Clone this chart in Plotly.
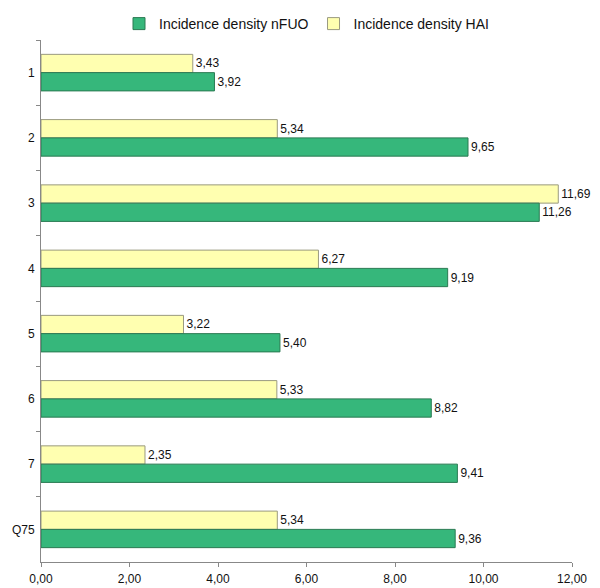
import plotly.graph_objs as go

categories = ["1", "2", "3", "4", "5", "6", "7", "Q75"]
hai = [3.43, 5.34, 11.69, 6.27, 3.22, 5.33, 2.35, 5.34]
nfuo = [3.92, 9.65, 11.26, 9.19, 5.40, 8.82, 9.41, 9.36]

fig = go.Figure()
fig.add_trace(go.Bar(y=categories, x=hai, orientation="h", name="Incidence density HAI",
                     marker=dict(color="#FFFFB0", line=dict(color="#9a9a80", width=1)),
                     text=[f"{v:.2f}".replace(".", ",") for v in hai], textposition="outside",
                     textfont=dict(size=12, color="#111"), cliponaxis=False, legendrank=2))
fig.add_trace(go.Bar(y=categories, x=nfuo, orientation="h", name="Incidence density nFUO",
                     marker=dict(color="#36B77B", line=dict(color="#2a7a52", width=1)),
                     text=[f"{v:.2f}".replace(".", ",") for v in nfuo], textposition="outside",
                     textfont=dict(size=12, color="#111"), cliponaxis=False, legendrank=1))

fig.update_layout(
    width=584, height=580,
    barmode="group", bargap=0.44, bargroupgap=0,
    plot_bgcolor="white", paper_bgcolor="white",
    margin=dict(l=33, r=20, t=32, b=26, autoexpand=False),
    font=dict(family="Liberation Sans, Arial", size=12, color="#111"),
    legend=dict(orientation="h", x=0.5, xanchor="center", yref="container", y=1,
                yanchor="top", font=dict(size=14, color="#111"), tracegroupgap=0,
                itemwidth=30),
    separators=", ",
)
fig.update_xaxes(range=[0, 12], dtick=2, tickformat=".2f", showgrid=False, showline=True,
                 linecolor="#888", ticks="outside", ticklen=4, tickcolor="#888", zeroline=False,
                 automargin=False, ticklabelstandoff=2)
fig.update_yaxes(autorange="reversed", showline=True, linecolor="#888", ticks="outside",
                 ticklen=4, tickcolor="#888", tickson="boundaries", showgrid=False,
                 ticklabelstandoff=3, automargin=False)

fig.write_html("out.html")
